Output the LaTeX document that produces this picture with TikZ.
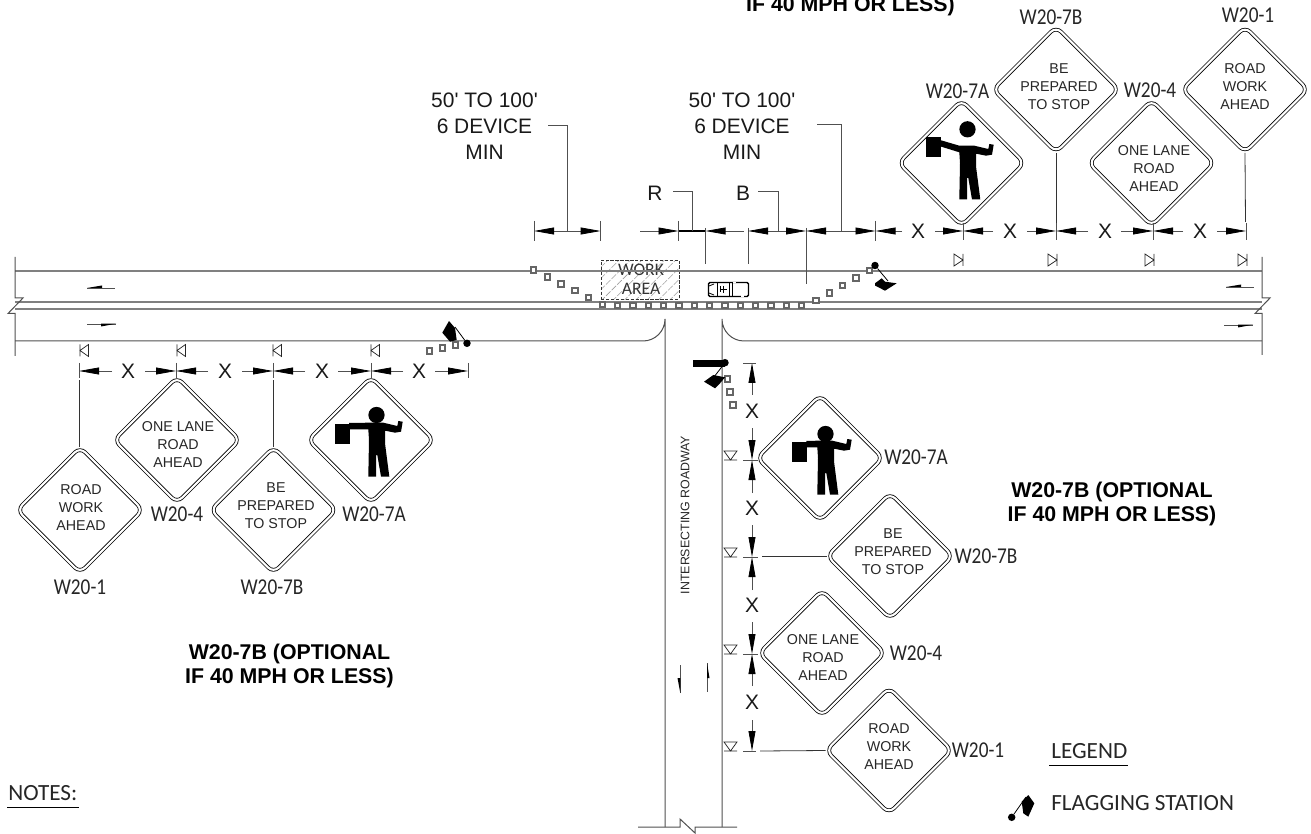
\documentclass[tikz,border=0pt]{standalone}
\usepackage{fontspec}
\setmainfont{Liberation Sans}
\newfontfamily\plainfont{Liberation Sans}
\newfontfamily\calfont{Carlito}
\newfontfamily\calnarrow[FakeStretch=0.85]{Carlito}
\usetikzlibrary{shapes.geometric,arrows.meta,patterns.meta}
\definecolor{roadgray}{HTML}{808080}
\definecolor{conegray}{HTML}{666666}
\definecolor{linegray}{HTML}{505050}
\tikzset{
  signbox/.style={shape=diamond,draw=black,line width=.6pt,double=white,double distance=1.6pt,rounded corners=5.5pt,aspect=1,minimum width=94.5pt,minimum height=94.5pt,inner sep=0pt},
  signtext/.style={align=center,inner sep=0pt,text=black!85,font=\fontsize{10.7}{13.5}\selectfont},
  codelabel/.style={inner sep=0pt,text=black!85,font=\calnarrow\fontsize{17}{20}\selectfont},
  bigtext/.style={align=center,inner sep=0pt,text=black!90,font=\plainfont\fontsize{15.7}{19.5}\selectfont},
  boldtext/.style={align=center,inner sep=0pt,text=black,font=\bfseries\fontsize{16}{18.4}\selectfont},
  calib/.style={inner sep=0pt,anchor=base west,text=black!85,font=\calfont\fontsize{17.4}{20}\selectfont},
  dimtip/.style={draw=linegray,line width=.6pt,-{Triangle[length=15pt,width=5.2pt,color=black]}},
  thinline/.style={draw=linegray,line width=.6pt},
  road/.style={draw=roadgray,line width=1.1pt},
  edge/.style={draw=linegray,line width=.75pt},
  stem/.style={draw=black!80,line width=.6pt},
  cone/.style={shape=rectangle,draw=conegray,fill=white,line width=1.4pt,minimum size=4pt,inner sep=0pt},
  mini/.style={draw=black!85,line width=.55pt},
}
% horizontal and vertical dimension pieces
\newcommand\dimseg[4]{\coordinate (dimfrom) at (#1,#2);\coordinate (dimto) at (#3,#4);\draw[dimtip] (dimfrom)--(dimto);}
\newcommand\mysign[3]{\node[signbox] (#1) at (#2,#3) {};}
\newcommand\flagman[6]{% name, cx, cy, flag left, flag dy, head dy
  \begin{scope}[shift={(#2,#3)}]
    \node[circle,fill=black,minimum size=12.2pt,inner sep=0pt] (#1head) at (5.5,#6) {};
    \fill[black] (#4,-16+#5) rectangle (#4+15,4+#5);
    \fill[black] (#4+14,-17+#5*.6) -- (-2.7,-17.3) -- (12.3,-17.3) -- (26.3,-14) -- (27.3,-19) -- (31.7,-18.3) -- (30,-8.3) -- (24,-7.3) -- (14,-9.3) -- (14,3.3) -- (18.3,36.5) -- (10,36.5) -- (6.3,15) -- (5,15) -- (5,36.5) -- (-2.7,36.5) -- (-2,0) -- (-2.7,-10.7) -- (#4+14,-10.7+#5*.6) -- cycle;
  \end{scope}}
\newcommand\flagstation[4]{% name, ball x, ball y, flag points
  \node[circle,fill=black,minimum size=5.6pt,inner sep=0pt] (#1) at (#2,#3) {};
  #4}
\newcommand\marker[3]{% name,x,y  triangle | pointing right, bar on the right
  \coordinate (#1) at (#2,#3);
  \draw[mini] (#2-9,#3-6) -- (#2,#3) -- (#2-9,#3+6) -- cycle (#2,#3-6) -- (#2,#3+6);}
\newcommand\markerl[3]{\coordinate (#1) at (#2,#3);
  \draw[mini] (#2+8.5,#3-6) -- (#2,#3) -- (#2+8.5,#3+6) -- cycle (#2,#3-6) -- (#2,#3+6);}
\newcommand\markerd[3]{\coordinate (#1) at (#2,#3);
  \draw[mini] (#2-6.5,#3-9) -- (#2,#3) -- (#2+6.5,#3-9) -- cycle (#2-6.5,#3) -- (#2+6.5,#3);}
\begin{document}
\begin{tikzpicture}[x=.75pt,y=-.75pt]
\useasboundingbox (0,0) rectangle (1311,834);
\clip (0,0) rectangle (1311,834);

% ---- work area
\node[draw=black!80,dash pattern=on 2.5pt off 1.2pt,line width=.75pt,pattern={Lines[angle=45,distance=6pt,line width=.4pt]},pattern color=black!38,minimum width=58.5pt,minimum height=29.5pt,inner sep=0pt] (workarea) at (640,279.7) {};
\node[inner sep=0pt,align=center,text=black!80,font=\calfont\fontsize{13.2}{14.2}\selectfont] (worktext) at (641,279) {WORK\\AREA};

% ---- roads
\coordinate (rtl) at (15,271); \coordinate (rtr) at (1262,271);
\coordinate (rml) at (15,302); \coordinate (rmr) at (1262,302);
\coordinate (rnl) at (15,309); \coordinate (rnr) at (1262,309);
\draw[road] (rtl)--(rtr) (rml)--(rmr) (rnl)--(rnr);
\coordinate (lcl) at (15,341); \coordinate (lcr) at (1262,341);
\draw[edge] (lcl) -- (643,341) arc[start angle=90,end angle=0,radius=22] -- (665,827);
\draw[edge] (lcr) -- (744,341) arc[start angle=90,end angle=180,radius=22] -- (722,827);
% break lines
\draw[edge] (15,257) -- (15,298) -- (23,298) -- (8,313.5) -- (15,313.5) -- (15,356);
\draw[edge] (1262,257) -- (1262,298) -- (1270,298) -- (1255,313.5) -- (1262,313.5) -- (1262,355);
\draw[edge] (638,827) -- (680,827) -- (680,819) -- (695,833) -- (695,827) -- (737,827);

% ---- travel direction arrows
\draw[thinline] (87,288)--(115,288); \fill[black] (87,288) -- (102,285.5) -- (102,288) -- cycle;
\draw[thinline] (87,324)--(116,324); \fill[black] (116,323.7) -- (101,326.5) -- (101,323.7) -- cycle;
\draw[thinline] (1226,287)--(1254,287); \fill[black] (1226,287) -- (1241,284.5) -- (1241,287) -- cycle;
\draw[thinline] (1224,325)--(1253,325); \fill[black] (1253,324.7) -- (1238,327.5) -- (1238,324.7) -- cycle;
\draw[thinline] (680,665)--(680,693); \fill[black] (680.3,693) -- (677.5,678) -- (680.3,678) -- cycle;
\draw[thinline] (707,663)--(707,692); \fill[black] (707,663) -- (709.5,678) -- (707,678) -- cycle;

% ---- cones
\foreach \i/\x/\y in {1/533.7/270,2/547.7/277,3/561/284,4/575/290.7,5/588.7/297.3,6/602.3/304.7,
 7/617.3/305.7,8/633/305.7,9/648.3/305.7,10/663.7/305.7,11/679/305.7,12/694.3/305.7,13/709.7/305.7,14/725/305.7,15/740.3/305.7,16/755.7/305.7,17/771/305.7,18/786.3/305.7,19/801.7/305.7,
 20/816/300.3,21/829.3/293,22/842.7/285.7,23/856/278,24/869.3/270.3,
 25/429.7/351,26/442.7/348,27/455.7/345,28/727.3/379,29/730/392,30/733/405}
 {\node[cone] (cone\i) at (\x,\y) {};}

% ---- vehicle
\node[draw=black,line width=1pt,rounded corners=1pt,minimum width=30pt,minimum height=10.5pt,inner sep=0pt] (vehicle) at (728.5,289.5) {};
\draw[black,line width=.6pt] (717,282.5)--(717,296.5) (729,282.5)--(729,296.5) (723,286)--(723,293) (719.5,289.5)--(726.5,289.5) (732,282.5)--(732,296.5);
\draw[black,line width=.6pt] (709,286) -- (714,284) (709,293) -- (714,295);
\fill[black] (720,286.5) rectangle (721,292.5);
\fill[white] (733,282) rectangle (735.5,283.5);
\fill[white] (741,295.5) rectangle (743.5,297.5);

% ---- flagging stations
\flagstation{flagA}{875}{265.5}{\fill[black] (875,283.3) -- (881.7,278.3) -- (885,281.7) -- (896.7,283.3) -- (885,290.7) -- (875,285.5) -- cycle;\draw[black,line width=.6pt] (flagA)--(888,281);}
\flagstation{flagB}{467}{343.3}{\fill[black] (442.3,332.7) -- (449,321) -- (455,328) -- (456.7,340) -- (450,341.7) -- cycle;\draw[black,line width=.6pt] (flagB)--(455,327);}
\flagstation{flagC}{725}{362.7}{\fill[black] (704,381.7) -- (713.3,375) -- (725,377.3) -- (720,383.3) -- (715,388.3) -- cycle;\draw[black,line width=.6pt] (flagC)--(714,377);\fill[black] (692.7,360) rectangle (725,366.7);}
\flagstation{flagD}{1011.7}{817.3}{\fill[black] (1021.7,801.7) -- (1028.3,795) -- (1034.3,803.3) -- (1028.3,816.7) -- (1023.3,813.3) -- cycle;\draw[black,line width=.6pt] (flagD)--(1026,797);}

% ---- signs top
\mysign{topA}{961.5}{163}
\mysign{topB}{1056}{89.5}
\mysign{topC}{1151.5}{163}
\mysign{topD}{1245}{89.5}
\flagman{mtop}{962}{163}{-36}{-10}{-33.7}
\node[signtext] (ttB) at (1059,87) {BE\\PREPARED\\TO STOP};
\node[signtext] (ttC) at (1154,169) {ONE LANE\\ROAD\\AHEAD};
\node[signtext] (ttD) at (1245,87) {ROAD\\WORK\\AHEAD};
\node[codelabel] (ctA) at (957.5,91) {W20-7A};
\node[codelabel] (ctB) at (1051,17.5) {W20-7B};
\node[codelabel] (ctC) at (1150,90) {W20-4};
\node[codelabel] (ctD) at (1248,15) {W20-1};

% ---- signs left
\mysign{lefA}{371}{440}
\mysign{lefB}{273.5}{510}
\mysign{lefC}{177}{440}
\mysign{lefD}{80}{510}
\flagman{mlef}{371}{440}{-36}{0}{-25}
\node[signtext] (tlB) at (276,505.5) {BE\\PREPARED\\TO STOP};
\node[signtext] (tlC) at (178,445) {ONE LANE\\ROAD\\AHEAD};
\node[signtext] (tlD) at (81,507.5) {ROAD\\WORK\\AHEAD};
\node[codelabel] (clA) at (374,514) {W20-7A};
\node[codelabel] (clB) at (272,587) {W20-7B};
\node[codelabel] (clC) at (177,514) {W20-4};
\node[codelabel] (clD) at (80,587) {W20-1};

% ---- signs right
\mysign{rigA}{820}{458}
\mysign{rigB}{890}{556}
\mysign{rigC}{822}{653}
\mysign{rigD}{889}{750.5}
\flagman{mrig}{820}{458}{-27.7}{0}{-24}
\node[signtext] (trB) at (893,552) {BE\\PREPARED\\TO STOP};
\node[signtext] (trC) at (823,658) {ONE LANE\\ROAD\\AHEAD};
\node[signtext] (trD) at (889,747) {ROAD\\WORK\\AHEAD};
\node[codelabel] (crA) at (916,457) {W20-7A};
\node[codelabel] (crB) at (986,556) {W20-7B};
\node[codelabel] (crC) at (916,653) {W20-4};
\node[codelabel] (crD) at (978,750) {W20-1};

% ---- stems
\coordinate (stA) at (1056,224); \coordinate (stB) at (1245.5,222);
\draw[stem] (topB.south)--(stA); \draw[stem] (topD.south)--(stB);
\coordinate (slA) at (79,380); \coordinate (slB) at (273,380);
\draw[stem] (lefD.north -| slA)--(slA); \draw[stem] (lefB.north -| slB)--(slB);
\coordinate (srA) at (762,556); \coordinate (srB) at (760,751);
\draw[stem] (rigB.west)--(srA); \draw[stem] (rigD.west)--(srB);

% ---- markers
\marker{mk1}{963}{260}\marker{mk2}{1057}{260}\marker{mk3}{1154}{260}\marker{mk4}{1247}{260}
\markerl{mk5}{80}{350.5}\markerl{mk6}{177}{350.5}\markerl{mk7}{273}{350.5}\markerl{mk8}{371}{350.5}
\markerd{mk9}{730.5}{460}\markerd{mk10}{730.5}{557}\markerd{mk11}{730.5}{654}\markerd{mk12}{730.5}{751}

% ---- top dimensions
\dimseg{568}{231}{534}{231}\dimseg{568}{231}{600.7}{231}
\draw[thinline] (534,221)--(534,241) (600.7,221)--(600.7,241);
\dimseg{640}{231}{678.5}{231}\dimseg{744}{231}{705.5}{231}
\draw[black,line width=1pt] (678.5,231)--(705.5,231);
\draw[thinline] (678.5,221)--(678.5,241) (705.5,228)--(705.5,264) (748,228)--(748,264);
\dimseg{777}{231}{748}{231}\dimseg{777}{231}{806}{231}
\draw[thinline] (806,228)--(806,284);
\dimseg{841}{231}{806}{231}\dimseg{841}{231}{875.5}{231}
\draw[thinline] (875.5,221)--(875.5,241);
\dimseg{902}{231}{875.5}{231}
\foreach \a/\t/\b in {935/963/993,1027/1056/1088,1121/1153/1183}
 {\dimseg{\a}{231}{\t}{231}\dimseg{\b}{231}{\t}{231}\draw[thinline] (\t,223)--(\t,240);}
\dimseg{1217}{231}{1246}{231}\draw[thinline] (1246,223)--(1246,240);
% leaders
\coordinate (ld1) at (548,125);\coordinate (ld2) at (817,124);\coordinate (ld3) at (673,191);\coordinate (ld4) at (758,191);
\draw[thinline] (ld1) -| (567.5,231);
\draw[thinline] (ld2) -| (841,231);
\draw[thinline] (ld3) -| (692,231);
\draw[thinline] (ld4) -| (778,231);
\node[bigtext] (lb1) at (484.5,126) {50' TO 100'\\6 DEVICE\\MIN};
\node[bigtext] (lb2) at (742,126) {50' TO 100'\\6 DEVICE\\MIN};
\node[bigtext] (lbR) at (655,193) {R};
\node[bigtext] (lbB) at (743,193) {B};
\foreach \n/\x in {1/918,2/1010,3/1105,4/1200}{\node[bigtext] (xt\n) at (\x,231) {X};}

% ---- left dimensions
\dimseg{112}{371}{79}{371}\draw[thinline] (79,363)--(79,378);
\foreach \a/\t/\b in {145/176/208,242/273/305,338/371/403}
 {\dimseg{\a}{371}{\t}{371}\dimseg{\b}{371}{\t}{371}\draw[thinline] (\t,363)--(\t,378);}
\dimseg{435}{371}{468}{371}\draw[thinline] (468,363)--(468,378);
\foreach \n/\x in {1/128,2/225,3/322,4/419}{\node[bigtext] (xl\n) at (\x,371) {X};}

% ---- right dimensions
\dimseg{752}{395}{752}{363}\draw[thinline] (743,363)--(756,363);
\foreach \a/\t/\b in {428/460/493,525/557/590,622/654/686}
 {\dimseg{752}{\a}{752}{\t}\dimseg{752}{\b}{752}{\t}\draw[thinline] (743,\t)--(758,\t);}
\dimseg{752}{720}{752}{751}\draw[thinline] (743,751)--(756,751);
\foreach \n/\y in {1/411,2/508,3/605,4/702}{\node[bigtext] (xr\n) at (752,\y) {X};}

% ---- free texts
\node[inner sep=0pt,rotate=90,text=black!85,font=\fontsize{9.3}{10}\selectfont] (inter) at (685,515) {INTERSECTING ROADWAY};
\node[boldtext] (optL) at (289.5,666) {W20-7B (OPTIONAL\\IF 40 MPH OR LESS)};
\node[boldtext] (optR) at (1112,504) {W20-7B (OPTIONAL\\IF 40 MPH OR LESS)};
\node[boldtext,anchor=base] (optT) at (850.5,12) {IF 40 MPH OR LESS)};
\node[calib] (legend) at (1051,758) {LEGEND};
\node[calib] (flagging) at (1051,810) {FLAGGING STATION};
\node[calib] (notes) at (8,800) {NOTES:};
\coordinate (lg1) at (1049,765);\coordinate (lg2) at (1128,765);\coordinate (nt1) at (7,807);\coordinate (nt2) at (79,807);
\draw[black,line width=.6pt] (lg1)--(lg2);
\draw[black,line width=.6pt] (nt1)--(nt2);
\end{tikzpicture}
\end{document}
